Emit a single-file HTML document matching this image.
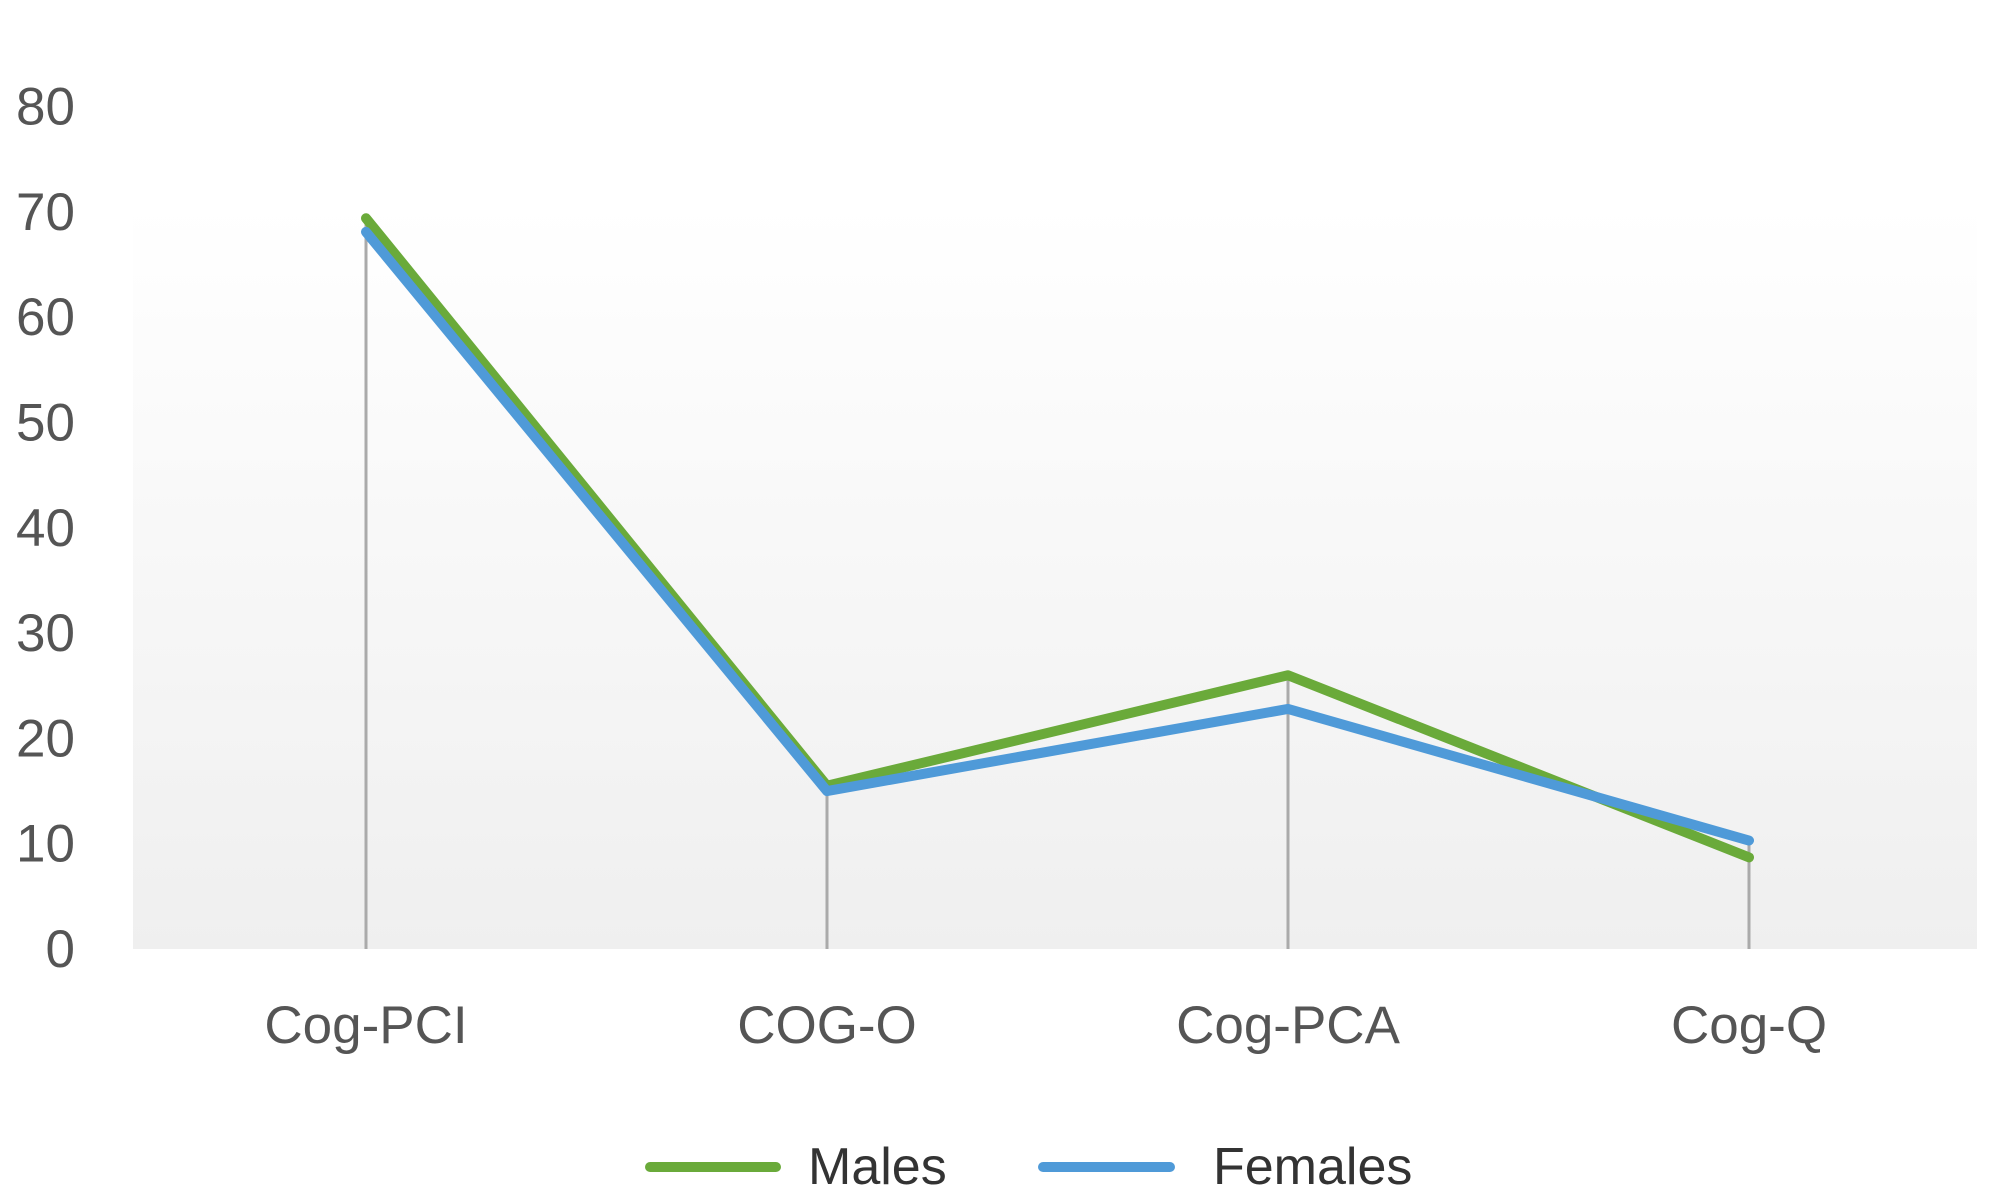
<!DOCTYPE html>
<html><head><meta charset="utf-8">
<style>
html,body{margin:0;padding:0;background:#fff;}
svg{display:block;font-family:"Liberation Sans",sans-serif;}
</style></head>
<body>
<svg id="chart" width="2006" height="1201" viewBox="0 0 2006 1201">
<defs>
<linearGradient id="bg" x1="0" y1="0" x2="0" y2="1">
<stop offset="0" stop-color="#ffffff"/>
<stop offset="1" stop-color="#efefef"/>
</linearGradient>
</defs>
<rect x="133" y="205" width="1844" height="744" fill="url(#bg)"/>
<g id="yticks"></g>
<g id="drops"></g>
<g id="series"></g>
<g id="xlabels"></g>
<g>
<line x1="650" y1="1167" x2="776" y2="1167" stroke="#6aaa3a" stroke-width="10" stroke-linecap="round"/>
<text x="808" y="1184" font-size="52" fill="#333">Males</text>
<line x1="1043" y1="1167" x2="1170" y2="1167" stroke="#4f9ad8" stroke-width="10" stroke-linecap="round"/>
<text x="1213" y="1184" font-size="52" fill="#333">Females</text>
</g>
</svg>
<script>
const categories = ["Cog-PCI","COG-O","Cog-PCA","Cog-Q"];
const males = [69.4, 15.5, 26.0, 8.7];
const females = [68.1, 15.0, 22.8, 10.3];
const yTicks = [0,10,20,30,40,50,60,70,80];

const NS="http://www.w3.org/2000/svg";
function yScale(v){return 949 - v*10.53;}
function xScale(i){return 366 + i*461;}
function mk(tag,attrs,parent){const e=document.createElementNS(NS,tag);for(const k in attrs)e.setAttribute(k,attrs[k]);parent.appendChild(e);return e;}

const yt=document.getElementById('yticks');
yTicks.forEach(t=>{
  const e=mk('text',{x:75,y:yScale(t)+18,'font-size':53,fill:'#555','text-anchor':'end'},yt);
  
  
  e.textContent=t;
});
const dr=document.getElementById('drops');
categories.forEach((c,i)=>{
  const top=Math.max(males[i],females[i]);
  const l=mk('line',{x1:xScale(i),x2:xScale(i),y1:yScale(top),y2:yScale(0),stroke:'#aaaaaa','stroke-width':3},dr);
  
  
});
const xl=document.getElementById('xlabels');
categories.forEach((c,i)=>{
  const e=mk('text',{x:xScale(i),y:1043,'font-size':53,fill:'#555','text-anchor':'middle'},xl);
  
  
  e.textContent=c;
});
const sg=document.getElementById('series');
function pts(arr){return arr.map((v,i)=>xScale(i)+','+yScale(v)).join(' ');}
const pm=mk('polyline',{points:pts(males),fill:'none',stroke:'#6aaa3a','stroke-width':10,'stroke-linejoin':'round','stroke-linecap':'round'},sg);


const pf=mk('polyline',{points:pts(females),fill:'none',stroke:'#4f9ad8','stroke-width':10,'stroke-linejoin':'round','stroke-linecap':'round'},sg);


</script>
</body></html>
